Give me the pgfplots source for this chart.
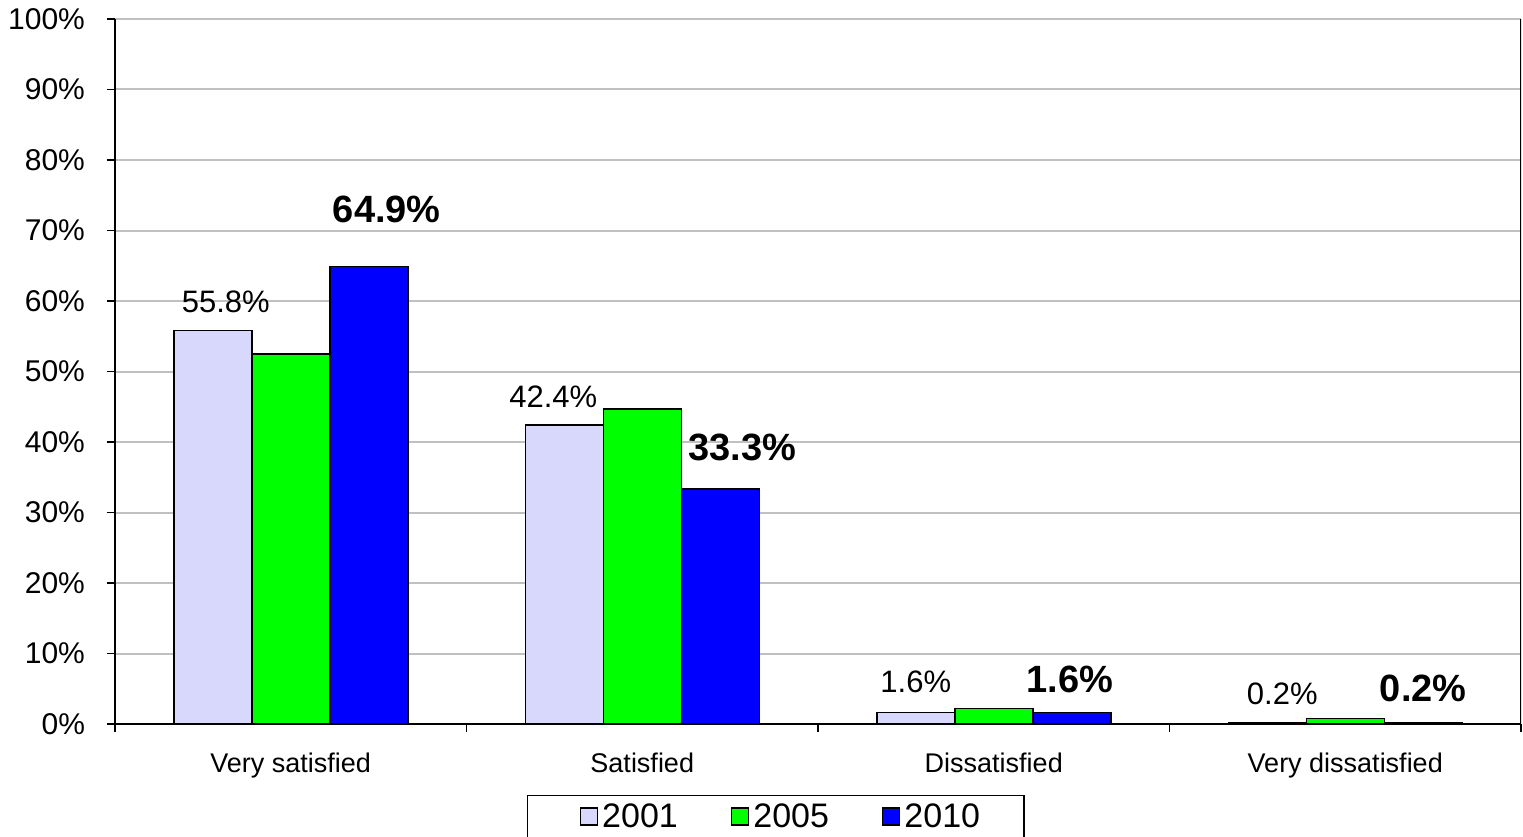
\documentclass[border=0pt]{standalone}
\usepackage{pgfplots}
\pgfplotsset{compat=1.18}
\usepackage{pgfplotstable}
\usepackage{fontspec}
\setmainfont{Liberation Sans}

\definecolor{c2001}{HTML}{D8D8FC}
\definecolor{c2005}{HTML}{00FF00}
\definecolor{c2010}{HTML}{0000FF}
\definecolor{gridgray}{HTML}{C0C0C0}

% x value dx dy (label offsets in pt)
\pgfplotstableread{
x y dx dy
0 55.8 6.5 14.5
1 42.4 -5.5 14
2 1.6 0 15.5
3 0.2 7.5 14.3
}\tone
\pgfplotstableread{
x y
0 52.5
1 44.7
2 2.2
3 0.8
}\tfive
\pgfplotstableread{
x y dx dy
0 64.9 9 28.5
1 33.3 11 21
2 1.6 -1 16.5
3 0.2 0 17.3
}\tten

\pgfplotsset{
  sqleg/.style={legend image code/.code={\path (0pt,0pt);
    \draw[##1, line width=0.75pt] (6pt,-4pt) rectangle (14.5pt,4.5pt);}},
}

\begin{document}
\begin{tikzpicture}
\begin{axis}[
  scale only axis, width=703pt, height=352.5pt,
  ybar=0pt, bar width=39pt,
  xmin=-0.5, xmax=3.5, ymin=0, ymax=100,
  axis x line*=bottom, axis y line*=left,
  axis line style={-, black, line width=1pt},
  tick align=outside,
  xtick={0,1,2,3},
  xticklabels={Very satisfied, Satisfied, Dissatisfied, Very dissatisfied},
  major x tick style={draw=none},
  extra x ticks={-0.5,0.5,1.5,2.5,3.5},
  extra x tick labels={},
  extra x tick style={major tick length=4pt, major x tick style={draw=black, line width=0.6pt}, grid=none},
  ytick={0,10,...,100},
  major y tick style={black, line width=0.6pt},
  major tick length=4pt,
  /pgf/number format/assume math mode=true,
  yticklabel={\pgfmathprintnumber{\tick}\%},
  ymajorgrids, grid style={gridgray, line width=1pt},
  xticklabel style={font=\fontsize{13.5}{15}\selectfont, yshift=-7pt},
  yticklabel style={font=\fontsize{15}{17}\selectfont, xshift=-7.5pt},
  legend style={at={(0.293,-0.1007)}, anchor=north west, legend columns=3,
    draw=black, line width=0.75pt, font=\fontsize{17}{19}\selectfont,
    inner xsep=20pt, inner ysep=2pt,
    /tikz/every even column/.append style={column sep=18.5pt}},
]
\addplot[fill=c2001, draw=black, line width=0.75pt, sqleg,
  nodes near coords={\pgfmathprintnumber[fixed,precision=1,fixed zerofill]{\pgfplotspointmeta}\%},
  visualization depends on={\thisrow{dx} \as \dx},
  visualization depends on={\thisrow{dy} \as \dy},
  every node near coord/.append style={anchor=center, xshift=\dx pt, yshift=\dy pt, font=\fontsize{15.5}{17}\selectfont}
] table[x=x, y=y] {\tone};
\addplot[fill=c2005, draw=black, line width=0.75pt, sqleg] table[x=x, y=y] {\tfive};
\addplot[fill=c2010, draw=black, line width=0.75pt, sqleg,
  nodes near coords={\pgfmathprintnumber[fixed,precision=1,fixed zerofill]{\pgfplotspointmeta}\%},
  visualization depends on={\thisrow{dx} \as \dx},
  visualization depends on={\thisrow{dy} \as \dy},
  every node near coord/.append style={anchor=center, xshift=\dx pt, yshift=\dy pt, font=\bfseries\fontsize{19}{21}\selectfont}
] table[x=x, y=y] {\tten};
\legend{2001, 2005, 2010}
\draw[black, line width=1pt] (rel axis cs:1,0) -- (rel axis cs:1,1);
\end{axis}
\pgfresetboundingbox
\path ([shift={(-57.5pt,-56pt)}]current axis.south west) rectangle ([shift={(1pt,9.5pt)}]current axis.north east);
\end{tikzpicture}
\end{document}
